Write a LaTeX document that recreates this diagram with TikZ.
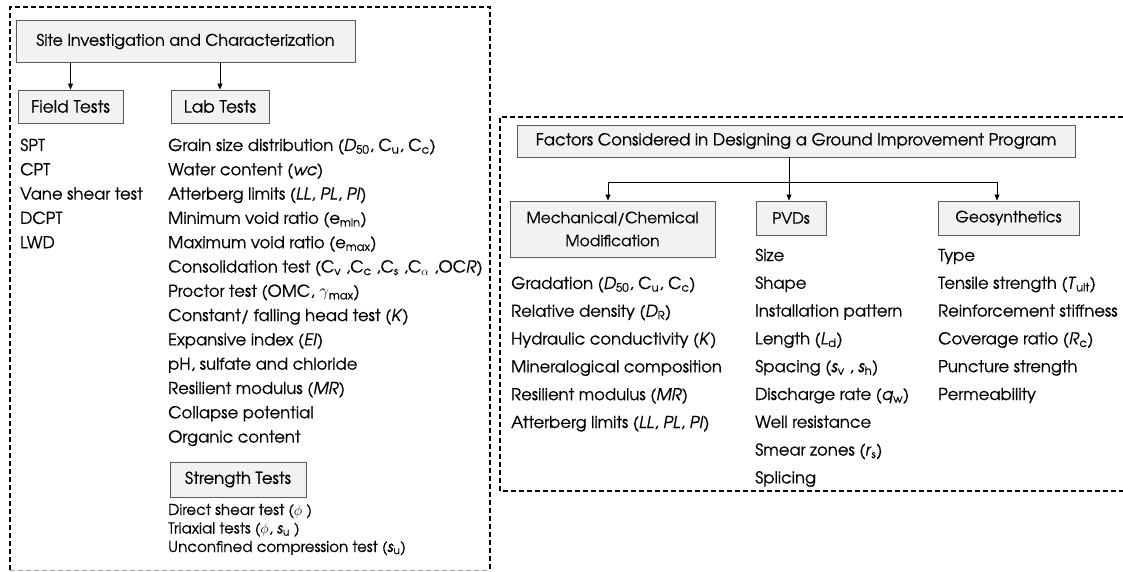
\documentclass[tikz,border=0pt]{standalone}
\usepackage{fontspec}
\setmainfont{TeX Gyre Adventor}[FakeBold=0.6]
\usetikzlibrary{arrows.meta}
\newcommand{\sbs}[1]{\textsubscript{#1}}
\definecolor{boxfill}{HTML}{F2F2F2}
\definecolor{boxline}{HTML}{5A5A5A}
\tikzset{
  hdr/.style={draw=boxline, fill=boxfill, line width=0.9pt, inner sep=0pt,
              font=\fontsize{15.5}{23}\selectfont, align=center},
  item/.style={anchor=base west, inner sep=0pt, font=\fontsize{16.4}{20}\selectfont},
  small/.style={anchor=base west, inner sep=0pt, font=\fontsize{15}{18}\selectfont},
  arr/.style={-{Triangle[length=6pt,width=5pt]}, line width=0.8pt, black},
  frame/.style={line width=1.5pt, dash pattern=on 5pt off 3pt, black},
}
\begin{document}
\begin{tikzpicture}[x=1pt, y=-1pt]
\useasboundingbox (0,0) rectangle (1123,572);

% left panel: site investigation
\draw[frame] (10,570) -- (10,7) -- (490,7) -- (490,570);
\draw[line width=0.6pt, dash pattern=on 5pt off 3pt, gray!70] (10,570) -- (490,570);

\node[hdr, minimum width=339pt, minimum height=42pt, font=\fontsize{16}{20}\selectfont] (site) at (185.5,41.5)
  {Site Investigation and Characterization};
\node[hdr, minimum width=105pt, minimum height=33pt, font=\fontsize{17}{20}\selectfont] (field) at (70.5,106.5) {Field Tests};
\node[hdr, minimum width=98pt, minimum height=33pt, font=\fontsize{17}{20}\selectfont] (lab) at (220,106.5) {Lab Tests};
\draw[arr] (site.south -| field.north) -- (field.north);
\draw[arr] (site.south -| lab.north) -- (lab.north);

\foreach \t [count=\i] in {SPT, CPT, Vane shear test, DCPT, LWD}
  \node[item] (fld\i) at (20, {151+24.3*(\i-1)}) {\t};

\foreach \t [count=\i] in {
  {Grain size distribution (\textit{D}\sbs{50}, C\sbs{u}, C\sbs{c})},
  {Water content (\textit{wc})},
  {Atterberg limits (\textit{LL}, \textit{PL}, \textit{PI})},
  {Minimum void ratio (e\sbs{min})},
  {Maximum void ratio (e\sbs{max})},
  {Consolidation test (C\sbs{v} ,C\sbs{c} ,C\sbs{s} ,C\sbs{$\alpha$} ,OC\textit{R})},
  {Proctor test (OMC, $\gamma$\sbs{max})},
  {Constant/ falling head test (\textit{K})},
  {Expansive index (\textit{EI})},
  {pH, sulfate and chloride},
  {Resilient modulus (\textit{MR})},
  {Collapse potential},
  {Organic content}}
  \node[item] (labi\i) at (168, {151+24.3*(\i-1)}) {\t};

\node[hdr, minimum width=136pt, minimum height=35pt, font=\fontsize{16.5}{20}\selectfont] (strength) at (238,479.5) {Strength Tests};
\foreach \t [count=\i] in {
  {Direct shear test ($\phi$ )},
  {Triaxial tests ($\phi$, \textit{s}\sbs{u} )},
  {Unconfined compression test (\textit{s}\sbs{u})}}
  \node[small] (str\i) at (168, {515+18.5*(\i-1)}) {\t};

% right panel: design factors
\draw[frame] (1123,117) -- (500,117) -- (500,491) -- (1123,491);

\node[hdr, minimum width=558pt, minimum height=32pt, font=\fontsize{16.5}{20}\selectfont] (factors) at (796,141)
  {Factors Considered in Designing a Ground Improvement Program};
\node[hdr, minimum width=205pt, minimum height=56pt] (mech) at (612.5,229)
  {Mechanical/Chemical\\Modification};
\node[hdr, minimum width=70pt, minimum height=34pt] (pvd) at (791,218) {PVDs};
\node[hdr, minimum width=141pt, minimum height=34pt] (geo) at (1008.5,218) {Geosynthetics};

\coordinate (busM) at (608,182);
\coordinate (busP) at (789,182);
\coordinate (busG) at (997,182);
\draw[line width=0.8pt] (busM) -- (busG);
\draw[line width=0.8pt] (factors.south -| busP) -- (busP);
\draw[arr] (busM) -- (busM |- mech.north);
\draw[arr] (busP) -- (busP |- pvd.north);
\draw[arr] (busG) -- (busG |- geo.north);

\foreach \t [count=\i] in {
  {Gradation (\textit{D}\sbs{50}, C\sbs{u}, C\sbs{c})},
  {Relative density (\textit{D}\sbs{R})},
  {Hydraulic conductivity (\textit{K})},
  {Mineralogical composition},
  {Resilient modulus (\textit{MR})},
  {Atterberg limits (\textit{LL}, \textit{PL}, \textit{PI})}}
  \node[item] (mec\i) at (511, {289+27.8*(\i-1)}) {\t};

\foreach \t [count=\i] in {
  Size, Shape, Installation pattern,
  {Length (\textit{L}\sbs{d})},
  {Spacing (\textit{s}\sbs{v} , \textit{s}\sbs{h})},
  {Discharge rate (\textit{q}\sbs{w})},
  Well resistance,
  {Smear zones (\textit{r}\sbs{s})},
  Splicing}
  \node[item] (pv\i) at (755, {261+27.8*(\i-1)}) {\t};

\foreach \t [count=\i] in {
  Type,
  {Tensile strength (\textit{T}\sbs{ult})},
  Reinforcement stiffness,
  {Coverage ratio (\textit{R}\sbs{c})},
  Puncture strength,
  Permeability}
  \node[item] (ge\i) at (938, {261+27.8*(\i-1)}) {\t};
\end{tikzpicture}
\end{document}
